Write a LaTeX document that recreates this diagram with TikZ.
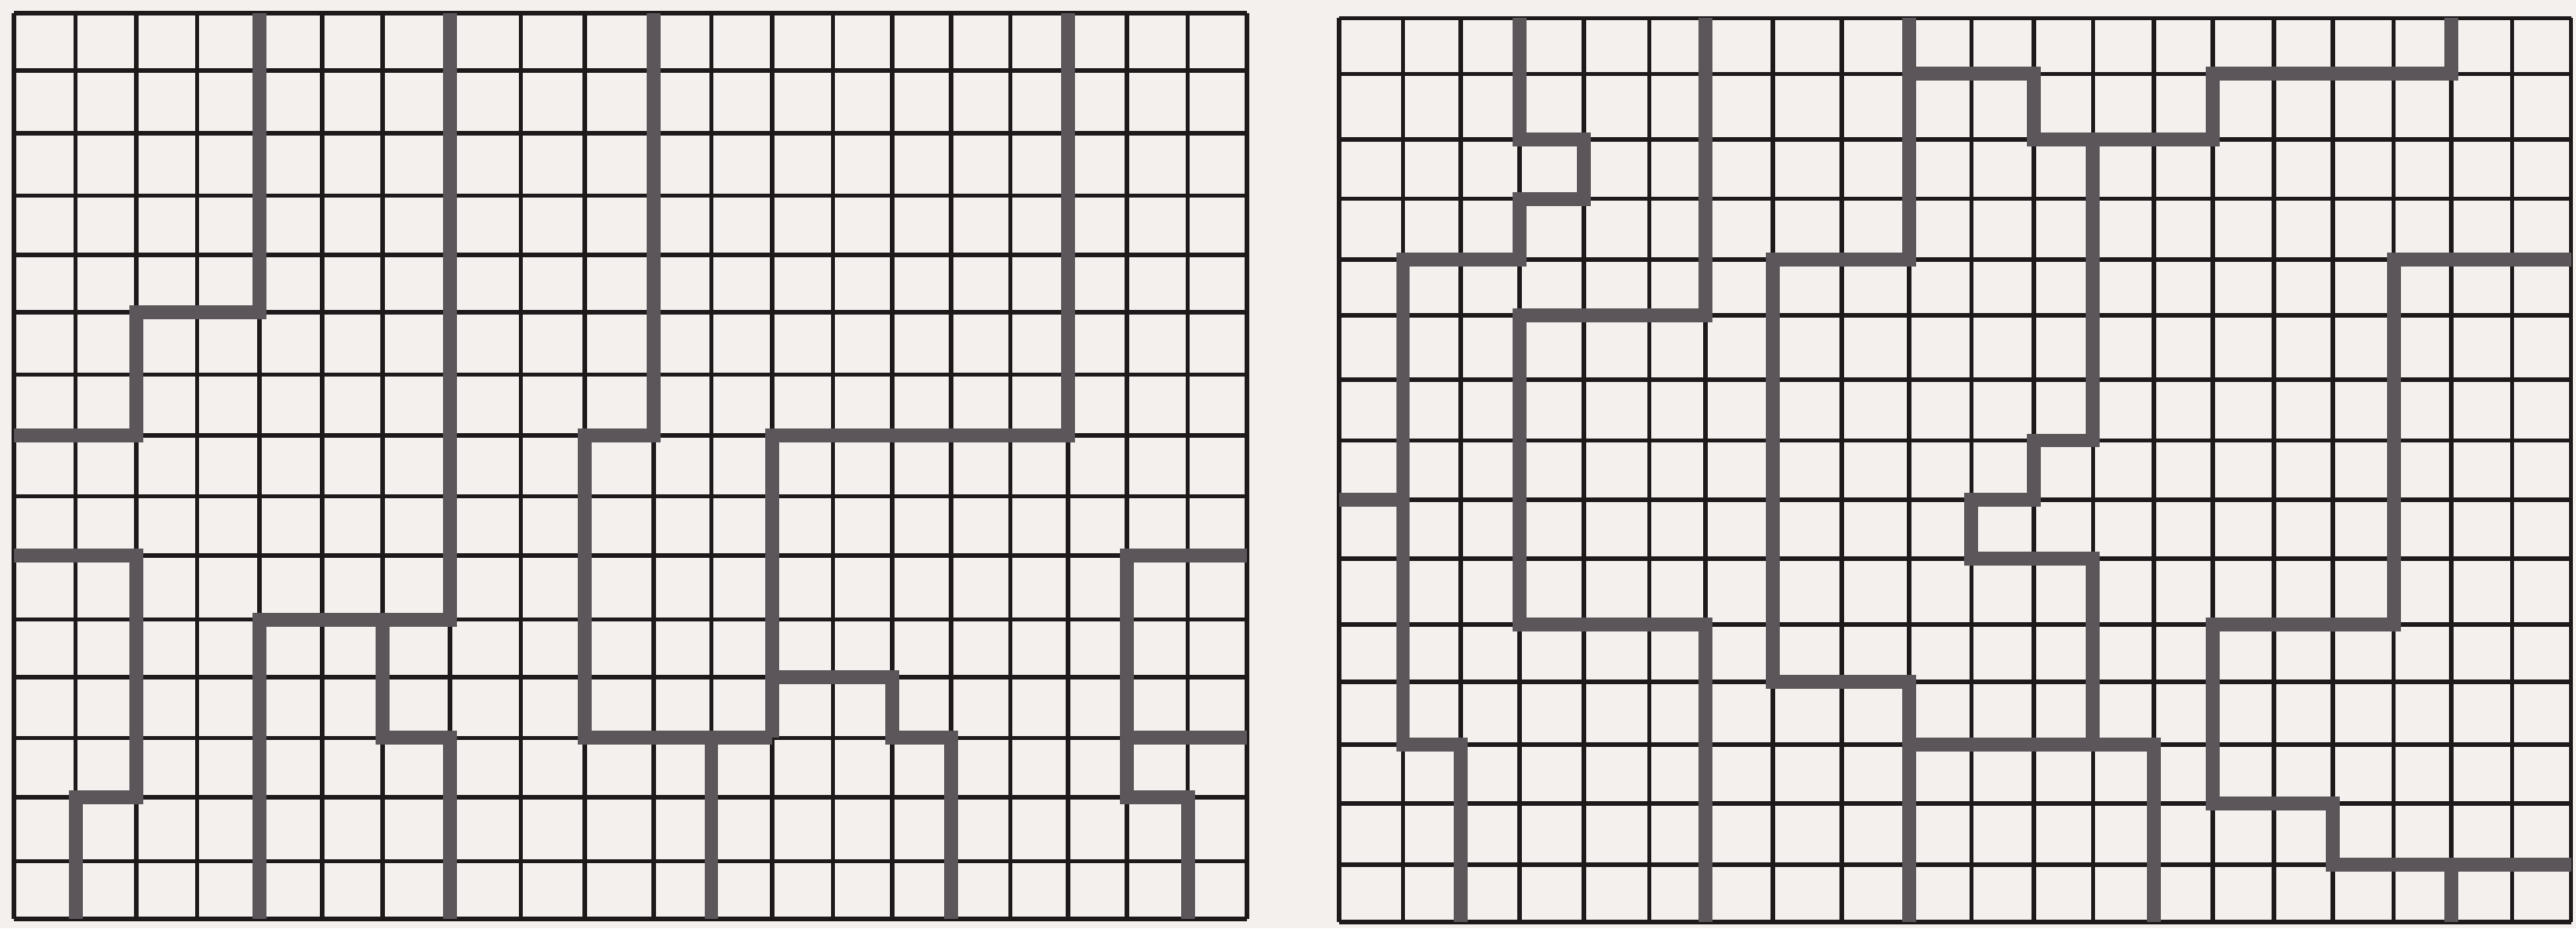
\documentclass[tikz,border=0pt]{standalone}
\usepackage{tikz}
\definecolor{paper}{RGB}{243,240,237}
\definecolor{wall}{RGB}{92,86,90}
\definecolor{ink}{RGB}{30,26,28}

\begin{document}
\begin{tikzpicture}[x=0.013329cm, y=-0.013329cm,
  gridline/.style={ink, line width=1pt},
  wallline/.style={wall, line width=3.2pt, line join=miter}]
\fill[paper] (0,0) rectangle (1568,565);
\useasboundingbox (0,0) rectangle (1568,565);

% corner points of both boards
\foreach \x [count=\i from 0] in {8.6,46,83,120,158,196,233,274,317,356,398,433,470,507,543,579,615,650,686,723,759}
  \foreach \y [count=\j from 0] in {8,43,81,119,155,190,228,265,302,338,377,412,449,485,524,559}
    \coordinate (L\i-\j) at (\x,\y);
\foreach \x [count=\i from 0] in {815,854,889,925,964,1004,1038,1079,1121,1162,1200,1238,1274,1311,1347,1384,1420,1457,1492,1529,1565}
  \foreach \y [count=\j from 0] in {11,45,85,121,158,192,231,268,304,340,380,415,453,489,526,561}
    \coordinate (R\i-\j) at (\x,\y);

% left board
\foreach \i in {0,...,20} \draw[gridline] (L\i-0) -- (L\i-15);
\foreach \j in {0,...,15} \draw[gridline] (L0-\j) -- (L20-\j);
\draw[wallline] (L4-0) -- (L4-5) -- (L2-5) -- (L2-7) -- (L0-7);
\draw[wallline] (L7-0) -- (L7-10) -- (L4-10) -- (L4-15);
\draw[wallline] (L6-10) -- (L6-12) -- (L7-12) -- (L7-15);
\draw[wallline] (L0-9) -- (L2-9) -- (L2-13) -- (L1-13) -- (L1-15);
\draw[wallline] (L10-0) -- (L10-7) -- (L9-7) -- (L9-12) -- (L12-12);
\draw[wallline] (L11-12) -- (L11-15);
\draw[wallline] (L17-0) -- (L17-7) -- (L12-7) -- (L12-12);
\draw[wallline] (L12-11) -- (L14-11) -- (L14-12) -- (L15-12) -- (L15-15);
\draw[wallline] (L20-9) -- (L18-9) -- (L18-13) -- (L19-13) -- (L19-15);
\draw[wallline] (L18-12) -- (L20-12);

% right board
\foreach \i in {0,...,20} \draw[gridline] (R\i-0) -- (R\i-15);
\foreach \j in {0,...,15} \draw[gridline] (R0-\j) -- (R20-\j);
\draw[wallline] (R3-0) -- (R3-2) -- (R4-2) -- (R4-3) -- (R3-3) -- (R3-4) -- (R1-4) -- (R1-12) -- (R2-12) -- (R2-15);
\draw[wallline] (R0-8) -- (R1-8);
\draw[wallline] (R6-0) -- (R6-5) -- (R3-5) -- (R3-10) -- (R6-10) -- (R6-15);
\draw[wallline] (R9-0) -- (R9-4) -- (R7-4) -- (R7-11) -- (R9-11) -- (R9-15);
\draw[wallline] (R9-12) -- (R13-12) -- (R13-15);
\draw[wallline] (R9-1) -- (R11-1) -- (R11-2) -- (R14-2) -- (R14-1) -- (R18-1) -- (R18-0);
\draw[wallline] (R12-2) -- (R12-7) -- (R11-7) -- (R11-8) -- (R10-8) -- (R10-9) -- (R12-9) -- (R12-12);
\draw[wallline] (R20-4) -- (R17-4) -- (R17-10) -- (R14-10) -- (R14-13) -- (R16-13) -- (R16-14) -- (R20-14);
\draw[wallline] (R18-14) -- (R18-15);
\end{tikzpicture}
\end{document}
